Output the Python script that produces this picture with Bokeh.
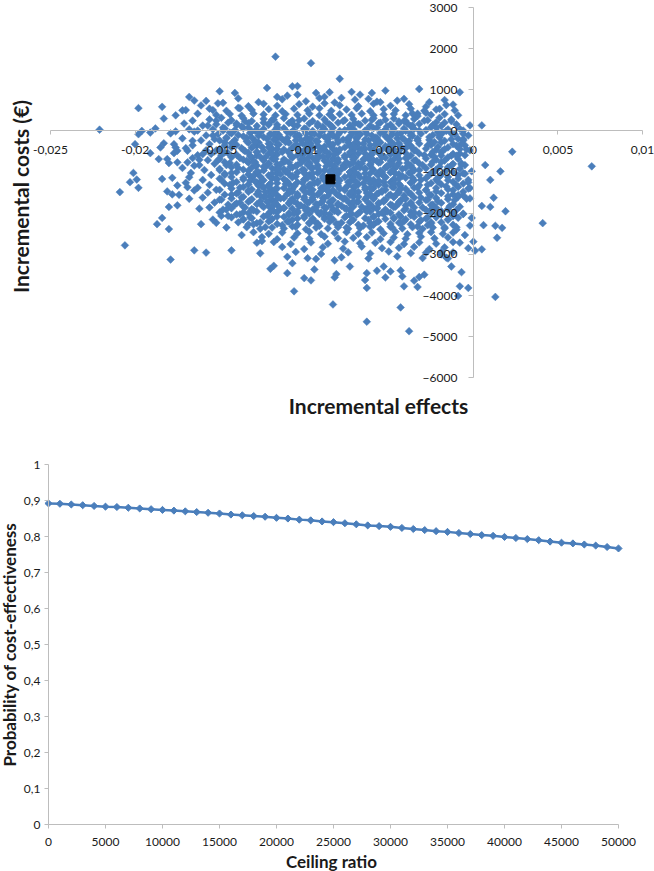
from math import pi
import numpy as np
from bokeh.plotting import figure
from bokeh.layouts import column
from bokeh.models import LinearAxis, FixedTicker, CustomJSTickFormatter, Range1d, Label
from bokeh.embed import file_html
from bokeh.resources import INLINE

FONT = "Lato"
BLUE = "#4a7ebb"
AXIS_GREY = "#bdbdbd"
TEXT = "#1a1a1a"

# ---------------- Cost-effectiveness plane ----------------
# incremental effects in units of 1e-4, incremental costs in EUR
cloud_effects_e4 = [
    -158, -139, -127, -113, -99, -91, -82, -70, -57, -41, -26, -17,
    -161, -151, -133, -124, -116, -103, -95, -88, -79, -68, -59, -49, -38, -28, -16,
    -172, -156, -146, -138, -131, -121, -113, -106, -98, -91, -84, -75, -69, -61, -53, -46, -37, -29, -22, -11,
    -176, -163, -152, -144, -137, -130, -124, -117, -111, -104, -97, -91, -85, -79, -72, -66, -59, -53, -47, -40, -33, -25, -17, -9,
    -183, -166, -156, -149, -143, -136, -131, -124, -119, -112, -107, -100, -95, -88, -83, -76, -71, -64, -59, -52, -47, -40, -35, -27, -20, -13,
    -171, -160, -152, -145, -140, -133, -128, -121, -116, -109, -104, -97, -92, -85, -80, -73, -68, -61, -56, -49, -44, -37, -32, -24, -17, -10,
    -188, -163, -154, -148, -141, -136, -129, -124, -117, -112, -106, -100, -95, -88, -83, -76, -71, -64, -59, -52, -47, -40, -35, -28, -22, -15, -6,
    -179, -158, -151, -144, -139, -132, -127, -120, -115, -108, -103, -96, -91, -84, -79, -72, -67, -60, -55, -48, -43, -36, -31, -24, -18, -11, -3,
    -172, -161, -153, -146, -141, -134, -129, -122, -117, -110, -105, -98, -93, -86, -81, -74, -69, -62, -57, -50, -45, -38, -33, -26, -20, -13, -6,
    -183, -166, -156, -147, -140, -133, -128, -121, -116, -109, -104, -97, -92, -85, -80, -73, -68, -61, -56, -49, -44, -37, -32, -25, -19, -12, -5,
    -170, -158, -150, -143, -136, -131, -124, -119, -112, -107, -100, -95, -88, -83, -76, -71, -64, -59, -52, -47, -40, -35, -28, -22, -15, -8, -2,
    -177, -163, -155, -147, -140, -133, -128, -121, -116, -109, -104, -97, -92, -85, -80, -73, -68, -61, -56, -49, -44, -37, -32, -25, -19, -12, -5,
    -166, -157, -150, -143, -136, -131, -124, -119, -112, -107, -100, -95, -88, -83, -76, -71, -64, -59, -52, -47, -40, -35, -28, -22, -15, -9,
    -180, -162, -153, -147, -140, -133, -128, -121, -116, -109, -104, -97, -92, -85, -80, -73, -68, -61, -56, -49, -44, -37, -32, -25, -19, -12, -5,
    -172, -159, -150, -143, -136, -131, -124, -119, -112, -107, -100, -95, -88, -83, -76, -71, -64, -59, -52, -47, -40, -35, -28, -22, -15, -8,
    -167, -155, -147, -140, -133, -128, -121, -116, -109, -104, -97, -92, -85, -80, -73, -68, -61, -56, -49, -44, -37, -32, -25, -19, -12, -5,
    -178, -160, -150, -143, -136, -131, -124, -119, -112, -107, -100, -95, -88, -83, -76, -71, -64, -59, -52, -47, -40, -35, -28, -22, -15, -9, -3,
    -170, -156, -147, -140, -133, -128, -121, -116, -109, -104, -97, -92, -85, -80, -73, -68, -61, -56, -49, -44, -37, -32, -25, -19, -12, -6,
    -163, -152, -143, -136, -131, -124, -119, -112, -107, -100, -95, -88, -83, -76, -71, -64, -59, -52, -47, -40, -35, -28, -22, -15, -9, -3,
    -157, -147, -140, -133, -128, -121, -116, -109, -104, -97, -92, -85, -80, -73, -68, -61, -56, -49, -44, -37, -32, -25, -19, -12, -6,
    -160, -150, -143, -136, -131, -124, -119, -112, -107, -100, -95, -88, -83, -76, -71, -64, -59, -52, -47, -40, -35, -28, -22, -15, -9, -2,
    -153, -145, -140, -133, -128, -121, -116, -109, -104, -97, -92, -85, -80, -73, -68, -61, -56, -49, -44, -37, -32, -25, -19, -12,
    -156, -148, -143, -136, -131, -124, -119, -112, -107, -100, -95, -88, -83, -76, -71, -64, -59, -52, -47, -40, -35, -28, -22, -15, -8,
    -150, -140, -133, -128, -121, -116, -109, -104, -97, -92, -85, -80, -73, -68, -61, -56, -49, -44, -37, -32, -25, -19, -12, -6,
    -143, -136, -131, -124, -119, -112, -107, -100, -95, -88, -83, -76, -71, -64, -59, -52, -47, -40, -35, -28, -22, -15, -9,
    -139, -133, -128, -121, -116, -109, -104, -97, -92, -85, -80, -73, -68, -61, -56, -49, -44, -37, -32, -25, -19, -12,
    -134, -126, -119, -112, -105, -99, -93, -86, -80, -74, -67, -61, -55, -48, -42, -36, -30, -24, -17, -10,
    -130, -121, -113, -104, -97, -90, -82, -75, -68, -60, -53, -46, -39, -32, -25, -18, -12,
    -125, -116, -106, -97, -88, -80, -71, -63, -55, -47, -40, -31, -23, -15,
    -118, -108, -96, -86, -76, -67, -58, -49, -41, -32, -22, -12,
    -113, -100, -89, -77, -66, -54, -44, -35, -26, -17,
    -105, -90, -74, -61, -50, -37, -28, -19,
    -110, -93, -78, -62, -45, -30, -16,
]
cloud_costs = [
    730, 790, 700, 770, 720, 800, 690, 760, 710, 780, 700, 750,
    620, 670, 600, 660, 610, 650, 590, 670, 620, 600, 660, 610, 650, 590, 630,
    500, 540, 490, 550, 510, 530, 480, 540, 500, 550, 490, 520, 550, 480, 530, 500, 540, 490, 520, 500,
    380, 420, 390, 410, 370, 420, 400, 380, 410, 390, 420, 380, 400, 410, 390, 420, 380, 400, 410, 380, 420, 390, 410, 380,
    300, 250, 280, 320, 260, 310, 240, 290, 270, 310, 250, 300, 240, 280, 320, 260, 290, 250, 310, 270, 300, 240, 290, 260, 320, 280,
    180, 130, 160, 200, 140, 190, 120, 170, 150, 190, 130, 180, 120, 160, 200, 140, 170, 130, 190, 150, 180, 120, 170, 140, 200, 160,
    60, 10, 40, 80, 20, 70, 0, 50, 30, 70, 10, 60, 0, 40, 80, 20, 50, 10, 70, 30, 60, 0, 50, 20, 80, 40, 10,
    -60, -110, -80, -40, -100, -50, -120, -70, -90, -50, -110, -60, -120, -80, -40, -100, -70, -110, -50, -90, -60, -120, -70, -100, -40, -80, -110,
    -180, -230, -200, -160, -220, -170, -240, -190, -210, -170, -230, -180, -240, -200, -160, -220, -190, -230, -170, -210, -180, -240, -190, -220, -160, -200, -230,
    -300, -350, -320, -280, -340, -290, -360, -310, -330, -290, -350, -300, -360, -320, -280, -340, -310, -350, -290, -330, -300, -360, -310, -340, -280, -320, -350,
    -420, -470, -440, -400, -460, -410, -480, -430, -450, -410, -470, -420, -480, -440, -400, -460, -430, -470, -410, -450, -420, -480, -430, -460, -400, -440, -470,
    -540, -590, -560, -520, -580, -530, -600, -550, -570, -530, -590, -540, -600, -560, -520, -580, -550, -590, -530, -570, -540, -600, -550, -580, -520, -560, -590,
    -660, -710, -680, -640, -700, -650, -720, -670, -690, -650, -710, -660, -720, -680, -640, -700, -670, -710, -650, -690, -660, -720, -670, -700, -640, -680,
    -780, -830, -800, -760, -820, -770, -840, -790, -810, -770, -830, -780, -840, -800, -760, -820, -790, -830, -770, -810, -780, -840, -790, -820, -760, -800, -830,
    -900, -950, -920, -880, -940, -890, -960, -910, -930, -890, -950, -900, -960, -920, -880, -940, -910, -950, -890, -930, -900, -960, -910, -940, -880, -920,
    -1020, -1070, -1040, -1000, -1060, -1010, -1080, -1030, -1050, -1010, -1070, -1020, -1080, -1040, -1000, -1060, -1030, -1070, -1010, -1050, -1020, -1080, -1030, -1060, -1000, -1040,
    -1140, -1190, -1160, -1120, -1180, -1130, -1200, -1150, -1170, -1130, -1190, -1140, -1200, -1160, -1120, -1180, -1150, -1190, -1130, -1170, -1140, -1200, -1150, -1180, -1120, -1160, -1190,
    -1260, -1310, -1280, -1240, -1300, -1250, -1320, -1270, -1290, -1250, -1310, -1260, -1320, -1280, -1240, -1300, -1270, -1310, -1250, -1290, -1260, -1320, -1270, -1300, -1240, -1280,
    -1380, -1430, -1400, -1360, -1420, -1370, -1440, -1390, -1410, -1370, -1430, -1380, -1440, -1400, -1360, -1420, -1390, -1430, -1370, -1410, -1380, -1440, -1390, -1420, -1360, -1400,
    -1500, -1550, -1520, -1480, -1540, -1490, -1560, -1510, -1530, -1490, -1550, -1500, -1560, -1520, -1480, -1540, -1510, -1550, -1490, -1530, -1500, -1560, -1510, -1540, -1480,
    -1620, -1670, -1640, -1600, -1660, -1610, -1680, -1630, -1650, -1610, -1670, -1620, -1680, -1640, -1600, -1660, -1630, -1670, -1610, -1650, -1620, -1680, -1630, -1660, -1600, -1640,
    -1740, -1790, -1760, -1720, -1780, -1730, -1800, -1750, -1770, -1730, -1790, -1740, -1800, -1760, -1720, -1780, -1750, -1790, -1730, -1770, -1740, -1800, -1750, -1780,
    -1860, -1910, -1880, -1840, -1900, -1850, -1920, -1870, -1890, -1850, -1910, -1860, -1920, -1880, -1840, -1900, -1870, -1910, -1850, -1890, -1860, -1920, -1870, -1900, -1840,
    -1980, -2030, -2000, -1960, -2020, -1970, -2040, -1990, -2010, -1970, -2030, -1980, -2040, -2000, -1960, -2020, -1990, -2030, -1970, -2010, -1980, -2040, -1990, -2020,
    -2100, -2150, -2120, -2080, -2140, -2090, -2160, -2110, -2130, -2090, -2150, -2100, -2160, -2120, -2080, -2140, -2110, -2150, -2090, -2130, -2100, -2160, -2110,
    -2220, -2270, -2240, -2200, -2260, -2210, -2280, -2230, -2250, -2210, -2270, -2220, -2280, -2240, -2200, -2260, -2230, -2270, -2210, -2250, -2220, -2280,
    -2340, -2380, -2350, -2370, -2330, -2390, -2350, -2370, -2340, -2380, -2360, -2330, -2390, -2350, -2370, -2340, -2380, -2350, -2370, -2340,
    -2460, -2500, -2470, -2490, -2450, -2510, -2480, -2460, -2500, -2470, -2490, -2450, -2510, -2480, -2460, -2500, -2470,
    -2580, -2630, -2590, -2620, -2570, -2610, -2600, -2580, -2630, -2590, -2620, -2570, -2610, -2590,
    -2700, -2750, -2710, -2740, -2690, -2730, -2720, -2700, -2750, -2710, -2740, -2700,
    -2820, -2870, -2830, -2860, -2810, -2850, -2840, -2820, -2870, -2830,
    -2940, -2990, -2950, -2980, -2930, -2970, -2960, -2940,
    -3060, -3110, -3070, -3100, -3050, -3090, -3080,
]
# the dense part of the cloud (points lying between the rows above)
core_effects_e4 = [
    -152, -140, -135, -124, -118, -108, -103, -92, -87, -77, -70, -60, -55, -44, -39, -29, -22, -13,
    -157, -147, -137, -133, -121, -116, -106, -99, -89, -84, -73, -67, -57, -51, -41, -36, -25, -19, -8,
    -148, -143, -131, -126, -116, -110, -100, -94, -84, -79, -69, -63, -53, -48, -37, -32, -21, -16, -6,
    -154, -146, -136, -131, -120, -115, -104, -99, -88, -83, -74, -67, -58, -52, -42, -37, -26, -20, -9,
    -150, -143, -134, -127, -118, -111, -102, -96, -86, -80, -70, -64, -55, -49, -39, -33, -23, -17, -7,
    -147, -137, -130, -121, -115, -105, -99, -90, -84, -73, -68, -58, -52, -43, -36, -27, -21, -10,
    -152, -145, -135, -128, -119, -113, -103, -97, -87, -81, -71, -66, -56, -50, -40, -34, -24, -18, -8,
    -149, -138, -132, -123, -117, -107, -101, -92, -86, -76, -70, -60, -54, -45, -39, -29, -23, -13,
    -151, -144, -134, -129, -118, -112, -102, -97, -86, -81, -71, -65, -55, -49, -39, -34, -24, -17, -7,
    -146, -139, -129, -123, -114, -108, -98, -92, -82, -77, -67, -61, -51, -45, -36, -30, -20, -13,
    -150, -143, -133, -127, -117, -111, -101, -95, -85, -80, -70, -64, -54, -48, -38, -32, -23, -16, -6,
    -147, -136, -130, -120, -114, -105, -99, -89, -83, -73, -67, -57, -52, -42, -36, -26, -20, -9,
    -149, -142, -132, -126, -116, -110, -100, -94, -85, -79, -69, -63, -53, -47, -37, -31, -21, -15,
    -144, -138, -127, -121, -111, -106, -96, -90, -80, -74, -64, -58, -48, -43, -33, -27, -16, -10,
    -150, -139, -133, -123, -117, -107, -101, -91, -86, -76, -70, -60, -54, -44, -38, -28, -22, -12,
    -143, -137, -126, -120, -110, -104, -95, -89, -79, -73, -63, -57, -47, -41, -31, -26, -15, -9,
    -149, -138, -132, -122, -116, -106, -100, -90, -84, -75, -69, -59, -53, -43, -37, -27, -21, -11,
    -141, -135, -125, -119, -109, -103, -93, -87, -78, -72, -62, -56, -46, -40, -30, -24, -14,
    -146, -136, -130, -120, -114, -104, -98, -88, -82, -73, -67, -57, -51, -41, -35, -25, -19, -10,
    -138, -132, -122, -116, -106, -100, -91, -85, -75, -69, -59, -53, -43, -37, -27, -21, -12,
    -136, -126, -120, -110, -104, -94, -88, -78, -72, -62, -57, -47, -41, -31, -25, -15,
    -130, -123, -113, -107, -97, -91, -81, -75, -65, -59, -49, -43, -33, -27, -17,
]
core_costs = [
    250, 180, 230, 200, 270, 210, 260, 170, 220, 240, 190, 270, 200, 230, 180, 250, 210, 240,
    130, 60, 110, 80, 150, 90, 140, 50, 100, 120, 70, 150, 80, 110, 60, 130, 90, 120, 50,
    10, -60, -10, -40, 30, -30, 20, -70, -20, 0, -50, 30, -40, -10, -60, 10, -30, 0, -70,
    -110, -180, -130, -160, -90, -150, -100, -190, -140, -120, -170, -90, -160, -130, -180, -110, -150, -120, -190,
    -230, -300, -250, -280, -210, -270, -220, -310, -260, -240, -290, -210, -280, -250, -300, -230, -270, -240, -310,
    -350, -420, -370, -400, -330, -390, -340, -430, -380, -360, -410, -330, -400, -370, -420, -350, -390, -360,
    -470, -540, -490, -520, -450, -510, -460, -550, -500, -480, -530, -450, -520, -490, -540, -470, -510, -480, -550,
    -590, -660, -610, -640, -570, -630, -580, -670, -620, -600, -650, -570, -640, -610, -660, -590, -630, -600,
    -710, -780, -730, -760, -690, -750, -700, -790, -740, -720, -770, -690, -760, -730, -780, -710, -750, -720, -790,
    -830, -900, -850, -880, -810, -870, -820, -910, -860, -840, -890, -810, -880, -850, -900, -830, -870, -840,
    -950, -1020, -970, -1000, -930, -990, -940, -1030, -980, -960, -1010, -930, -1000, -970, -1020, -950, -990, -960, -1030,
    -1070, -1140, -1090, -1120, -1050, -1110, -1060, -1150, -1100, -1080, -1130, -1050, -1120, -1090, -1140, -1070, -1110, -1080,
    -1190, -1260, -1210, -1240, -1170, -1230, -1180, -1270, -1220, -1200, -1250, -1170, -1240, -1210, -1260, -1190, -1230, -1200,
    -1310, -1380, -1330, -1360, -1290, -1350, -1300, -1390, -1340, -1320, -1370, -1290, -1360, -1330, -1380, -1310, -1350, -1320,
    -1430, -1500, -1450, -1480, -1410, -1470, -1420, -1510, -1460, -1440, -1490, -1410, -1480, -1450, -1500, -1430, -1470, -1440,
    -1550, -1620, -1570, -1600, -1530, -1590, -1540, -1630, -1580, -1560, -1610, -1530, -1600, -1570, -1620, -1550, -1590, -1560,
    -1670, -1740, -1690, -1720, -1650, -1710, -1660, -1750, -1700, -1680, -1730, -1650, -1720, -1690, -1740, -1670, -1710, -1680,
    -1790, -1860, -1810, -1840, -1770, -1830, -1780, -1870, -1820, -1800, -1850, -1770, -1840, -1810, -1860, -1790, -1830,
    -1910, -1980, -1930, -1960, -1890, -1950, -1900, -1990, -1940, -1920, -1970, -1890, -1960, -1930, -1980, -1910, -1950, -1920,
    -2030, -2100, -2050, -2080, -2010, -2070, -2020, -2110, -2060, -2040, -2090, -2010, -2080, -2050, -2100, -2030, -2070,
    -2150, -2220, -2170, -2200, -2130, -2190, -2140, -2230, -2180, -2160, -2210, -2130, -2200, -2170, -2220, -2150,
    -2270, -2340, -2290, -2320, -2250, -2310, -2260, -2350, -2300, -2280, -2330, -2250, -2320, -2290, -2340,
]
# the densest centre of the cloud, around the mean
center_effects_e4 = [
    -127, -118, -107, -99, -90, -80, -72, -63, -53, -45,
    -124, -113, -105, -96, -86, -77, -69, -59, -50, -41,
    -129, -120, -110, -101, -92, -83, -74, -65, -56, -47,
    -125, -116, -106, -97, -88, -79, -70, -61, -52, -43,
    -128, -119, -109, -100, -91, -82, -73, -64, -55, -46,
    -126, -117, -108, -98, -89, -80, -71, -62, -54, -44,
    -130, -121, -111, -102, -93, -84, -75, -66, -57, -48,
    -124, -115, -105, -96, -87, -78, -69, -60, -51, -42,
    -128, -119, -110, -100, -91, -82, -73, -64, -55, -46,
    -126, -117, -107, -98, -89, -80, -71, -62, -53, -44,
    -129, -120, -111, -101, -92, -83, -74, -65, -56, -47,
    -125, -116, -106, -97, -88, -79, -70, -61, -52, -43,
    -127, -118, -109, -99, -90, -81, -72, -63, -54, -45,
    -123, -114, -104, -95, -86, -77, -68, -59, -50, -41,
    -126, -117, -108, -98, -89, -80, -71, -62, -53, -44,
    -121, -112, -102, -93, -84, -75, -66, -57, -48,
    -118, -109, -99, -90, -81, -72, -63, -54,
]
center_costs = [
    -30, -80, -10, -60, -20, -90, -40, -70, -10, -80,
    -150, -200, -130, -180, -140, -210, -160, -190, -130, -200,
    -270, -320, -250, -300, -260, -330, -280, -310, -250, -320,
    -390, -440, -370, -420, -380, -450, -400, -430, -370, -440,
    -510, -560, -490, -540, -500, -570, -520, -550, -490, -560,
    -630, -680, -610, -660, -620, -690, -640, -670, -610, -680,
    -750, -800, -730, -780, -740, -810, -760, -790, -730, -800,
    -870, -920, -850, -900, -860, -930, -880, -910, -850, -920,
    -990, -1040, -970, -1020, -980, -1050, -1000, -1030, -970, -1040,
    -1110, -1160, -1090, -1140, -1100, -1170, -1120, -1150, -1090, -1160,
    -1230, -1280, -1210, -1260, -1220, -1290, -1240, -1270, -1210, -1280,
    -1350, -1400, -1330, -1380, -1340, -1410, -1360, -1390, -1330, -1400,
    -1470, -1520, -1450, -1500, -1460, -1530, -1480, -1510, -1450, -1520,
    -1590, -1640, -1570, -1620, -1580, -1650, -1600, -1630, -1570, -1640,
    -1710, -1760, -1690, -1740, -1700, -1770, -1720, -1750, -1690, -1760,
    -1830, -1880, -1810, -1860, -1820, -1890, -1840, -1870, -1810,
    -1950, -2000, -1930, -1980, -1940, -2010, -1960, -1990,
]
outlier_effects_e4 = [
    -117, -96, -79, -122, -107, -104, -116, -110, -104, -93,
    -88, -85, -78, -72, -67, -60, -62, -52, -55, -45,
    -32, -8, -12, -20, -28, -33, -36, -41, -2, 5,
    -13, 23, 7, 10, 16, -1, -2, -6, -10, -17,
    -19, -221, -198, -184, -168, -165, -170, -150, -141, -148,
    -154, -139, -196, -191, -198, -176, -168, -165, -200, -185,
    -191, -186, -181, -177, -176, -175, -169, -166, -175, -169,
    -165, -162, -160, -201, -199, -203, -198, -209, -184, -181,
    -178, -175, -174, -169, -168, -165, -180, -175, -184, -187,
    -180, -206, -179, -165, -158, -143, -161, -162, -168, -154,
    -152, -149, -145, -146, -137, -128, -125, -126, -120, -106,
    -83, -63, -38, -43, 13, 41, 19, 12, 5, 10,
    6, 13, 17, 14, 5, 1, 0, -1, -6, -5,
    -8, -13, -7, -8, -3, -9, -33, -41, -35, -29,
    -32, -42, -43, -52, -49, -53, -57, -63, -64, -63,
    -73, -81, -82, -82, -94, -96, -100, -110, -107, -118,
    -98, 70, -4, -3, -7, -4, -6, -2, -10, -3,
    -12, -15, -19,
]
outlier_costs = [
    1805, 1646, 1268, 1044, 1084, 1090, 827, 858, 882, 923,
    827, 940, 803, 947, 882, 923, 778, 979, 699, 737,
    1019, 940, 641, 537, 441, 361, 424, 241, 135, 135,
    -65, -506, -829, -1190, -981, -981, -1390, -1567, -603, -443,
    -600, 30, 554, 586, 827, 737, 506, 964, 923, 682,
    506, 562, 0, -40, -80, -10, 40, -17, -322, -402,
    -540, -684, -684, -322, -402, -482, -482, -241, -764, -764,
    -844, -699, -564, -1022, -1181, -1246, -1383, -1487, -1166, -1470,
    -1542, -1326, -1552, -1366, -1125, -1446, -1848, -1808, -2114, -2266,
    -2386, -2781, -3126, -2902, -2957, -2902, -2266, -1889, -1648, -2154,
    -2234, -2065, -2065, -2347, -2530, -2716, -2675, -2974, -3350, -3897,
    -4218, -4637, -4868, -4290, -4034, -2241, -1952, -1624, -1824, -1848,
    -2290, -2306, -2355, -2596, -2877, -2909, -2692, -2114, -2010, -2530,
    -2716, -3295, -3432, -3776, -3817, -4010, -3793, -3776, -3639, -3494,
    -3550, -3535, -3390, -3560, -3415, -3295, -3398, -3817, -3624, -3456,
    -3295, -3480, -3560, -3143, -3367, -3632, -3576, -3456, -3215, -3278,
    -3094, -860, -1650, -1250, -820, -450, -200, -2300, -2400, -2850,
    -2950, -3100, -3000,
]
mean_effect = [-0.00845]
mean_cost = [-1175]

effect_ticks = [-0.025, -0.02, -0.015, -0.01, -0.005, 0, 0.005, 0.01]
cost_ticks = [-6000, -5000, -4000, -3000, -2000, -1000, 0, 1000, 2000, 3000]

# ---------------- Acceptability curve ----------------
ceiling_ratio = [
    0, 1000, 2000, 3000, 4000, 5000, 6000, 7000, 8000, 9000,
    10000, 11000, 12000, 13000, 14000, 15000, 16000, 17000, 18000, 19000,
    20000, 21000, 22000, 23000, 24000, 25000, 26000, 27000, 28000, 29000,
    30000, 31000, 32000, 33000, 34000, 35000, 36000, 37000, 38000, 39000,
    40000, 41000, 42000, 43000, 44000, 45000, 46000, 47000, 48000, 49000,
    50000,
]
prob_cost_effective = [
    0.892, 0.891, 0.889, 0.887, 0.885, 0.883, 0.882, 0.880, 0.878, 0.876,
    0.874, 0.872, 0.870, 0.868, 0.866, 0.864, 0.861, 0.859, 0.857, 0.855,
    0.852, 0.850, 0.847, 0.845, 0.842, 0.840, 0.837, 0.834, 0.831, 0.829,
    0.827, 0.824, 0.821, 0.818, 0.815, 0.813, 0.810, 0.807, 0.804, 0.802,
    0.799, 0.796, 0.793, 0.790, 0.786, 0.783, 0.781, 0.778, 0.775, 0.771,
    0.767,
]
ceiling_ticks = [0, 5000, 10000, 15000, 20000, 25000, 30000, 35000, 40000, 45000, 50000]
prob_ticks = [0, 0.1, 0.2, 0.3, 0.4, 0.5, 0.6, 0.7, 0.8, 0.9, 1]

effects = np.array(cloud_effects_e4 + core_effects_e4 + center_effects_e4 + outlier_effects_e4,
                   dtype=float) / 10000.0
costs = np.array(cloud_costs + core_costs + center_costs + outlier_costs, dtype=float)

comma_code = "var v = Math.round(tick * 1000) / 1000; return String(v).replace('.', ',');"


def style_axis(ax, tick_out, standoff):
    ax.axis_line_color = AXIS_GREY
    ax.major_tick_line_color = AXIS_GREY
    ax.minor_tick_line_color = None
    ax.major_tick_in = 0
    ax.major_tick_out = tick_out
    ax.major_label_standoff = standoff
    ax.major_label_text_font = FONT
    ax.major_label_text_font_size = "12px"
    ax.major_label_text_color = TEXT


# ---------------- top figure: the frame fills the whole canvas ----------------
W1, H1 = 654, 425
# pixel geometry of the data box inside the canvas
L1, R1, T1, B1 = 50.0, 642.0, 7.0, 377.3
ex0, ex1, cy0, cy1 = -0.025, 0.01, -6000.0, 3000.0
kx1 = (R1 - L1) / (ex1 - ex0)
ky1 = (B1 - T1) / (cy1 - cy0)

p1 = figure(width=W1, height=H1,
            x_range=Range1d(ex0 - L1 / kx1, ex1 + (W1 - R1) / kx1),
            y_range=Range1d(cy0 - (H1 - B1) / ky1, cy1 + T1 / ky1),
            x_axis_location=None, y_axis_location=None,
            toolbar_location=None, output_backend="svg",
            min_border=0, min_border_left=0, min_border_right=0,
            min_border_top=0, min_border_bottom=0)
p1.outline_line_color = None
p1.background_fill_color = "white"
p1.border_fill_color = "white"
p1.grid.visible = False

p1.scatter(effects, costs, marker="square", angle=pi / 4, size=5.5,
           fill_color=BLUE, line_color=BLUE, line_width=0.5)
p1.scatter(mean_effect, mean_cost, marker="square", size=9,
           fill_color="black", line_color="black")

xa = LinearAxis(fixed_location=0, bounds=(ex0, ex1), ticker=FixedTicker(ticks=effect_ticks),
                formatter=CustomJSTickFormatter(code=comma_code))
ya = LinearAxis(fixed_location=0, bounds=(cy0, cy1), ticker=FixedTicker(ticks=cost_ticks))
style_axis(xa, 4, 11)
style_axis(ya, 5, 11)
p1.add_layout(xa, "below")
p1.add_layout(ya, "left")


def p1_data(px, py):
    return ex0 + (px - L1) / kx1, cy1 - (py - T1) / ky1


tx, ty = p1_data(378, 405)
p1.add_layout(Label(x=tx, y=ty, text="Incremental effects",
                    text_align="center", text_baseline="middle",
                    text_font=FONT, text_font_size="21px", text_font_style="bold",
                    text_color=TEXT))
tx, ty = p1_data(20, 196)
p1.add_layout(Label(x=tx, y=ty, text="Incremental costs (€)", angle=pi / 2,
                    text_align="center", text_baseline="middle",
                    text_font=FONT, text_font_size="21px", text_font_style="bold",
                    text_color=TEXT))

# ---------------- bottom figure: the frame fills the whole canvas ----------------
W2, H2 = 654, 446
L2, R2, T2, B2 = 48.0, 618.0, 39.0, 399.3
rx0, rx1, py0, py1 = 0.0, 50000.0, 0.0, 1.0
kx2 = (R2 - L2) / (rx1 - rx0)
ky2 = (B2 - T2) / (py1 - py0)

p2 = figure(width=W2, height=H2,
            x_range=Range1d(rx0 - L2 / kx2, rx1 + (W2 - R2) / kx2),
            y_range=Range1d(py0 - (H2 - B2) / ky2, py1 + T2 / ky2),
            x_axis_location=None, y_axis_location=None,
            toolbar_location=None, output_backend="svg",
            min_border=0, min_border_left=0, min_border_right=0,
            min_border_top=0, min_border_bottom=0)
p2.outline_line_color = None
p2.background_fill_color = "white"
p2.border_fill_color = "white"
p2.grid.visible = False

p2.line(ceiling_ratio, prob_cost_effective, line_color=BLUE, line_width=2.5)
p2.scatter(ceiling_ratio, prob_cost_effective, marker="square", angle=pi / 4, size=5,
           fill_color=BLUE, line_color=BLUE)

xb = LinearAxis(fixed_location=0, bounds=(rx0, rx1), ticker=FixedTicker(ticks=ceiling_ticks))
yb = LinearAxis(fixed_location=0, bounds=(py0, py1), ticker=FixedTicker(ticks=prob_ticks),
                formatter=CustomJSTickFormatter(code=comma_code))
style_axis(xb, 4, 9)
style_axis(yb, 4, 4)
p2.add_layout(xb, "below")
p2.add_layout(yb, "left")


def p2_data(px, py):
    return rx0 + (px - L2) / kx2, py1 - (py - T2) / ky2


tx, ty = p2_data(331, 436)
p2.add_layout(Label(x=tx, y=ty, text="Ceiling ratio",
                    text_align="center", text_baseline="middle",
                    text_font=FONT, text_font_size="17px", text_font_style="bold",
                    text_color=TEXT))
tx, ty = p2_data(9, 219)
p2.add_layout(Label(x=tx, y=ty, text="Probability of cost-effectiveness", angle=pi / 2,
                    text_align="center", text_baseline="middle",
                    text_font=FONT, text_font_size="17px", text_font_style="bold",
                    text_color=TEXT))

layout = column(p1, p2, spacing=0)

open("out.html", "w").write(file_html(layout, INLINE))
